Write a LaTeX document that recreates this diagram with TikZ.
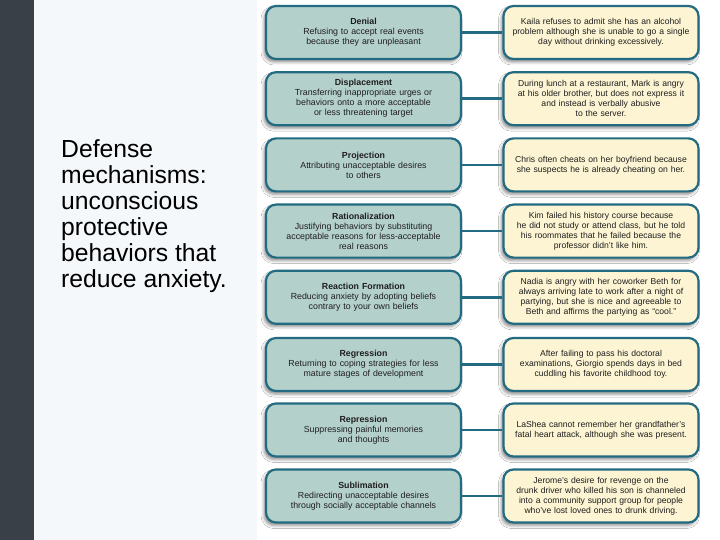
\documentclass[tikz,border=0pt]{standalone}
\usepackage{fontspec}
\setmainfont{Liberation Sans}
\usetikzlibrary{shadows.blur}
\definecolor{barcol}{HTML}{394048}
\definecolor{panelcol}{HTML}{F4F8FB}
\definecolor{edgecol}{HTML}{236B82}
\definecolor{leftfill}{HTML}{B4D0CB}
\definecolor{rightfill}{HTML}{FCF4D2}
\definecolor{txtcol}{HTML}{1E1E1E}
\tikzset{
  mechbox/.style={draw=edgecol, line width=2.2pt, rounded corners=10pt,
    minimum width=195pt, minimum height=53pt, text width=190pt, align=center,
    inner sep=1pt, text=txtcol, font=\fontsize{8.8}{10}\selectfont,
    blur shadow={shadow xshift=-2pt, shadow yshift=-3pt, shadow blur radius=3pt, shadow opacity=45}},
  defbox/.style={mechbox, fill=leftfill},
  exbox/.style={mechbox, fill=rightfill, font=\fontsize{8.6}{10}\selectfont},
  link/.style={draw=edgecol, line width=2.5pt},
  heading/.style={anchor=north west, inner sep=0pt, align=left, text=black,
    font=\fontsize{24.7}{26}\selectfont}
}
\begin{document}
\begin{tikzpicture}[x=1pt,y=-1pt]
\useasboundingbox (0,0) rectangle (720,540);
\fill[white] (0,0) rectangle (720,540);
\fill[barcol] (0,0) rectangle (34,540);
\fill[panelcol] (34,0) rectangle (257,540);
\node[heading] (title) at (61,139) {Defense\\mechanisms:\\unconscious\\protective\\behaviors that\\reduce anxiety.};

\node[defbox] (d1) at (363.5,32.5) {\textbf{Denial}\\Refusing to accept real events\\because they are unpleasant};
\node[exbox] (e1) at (601,32.5) {Kaila refuses to admit she has an alcohol\\problem although she is unable to go a single\\day without drinking excessively.};

\node[defbox] (d2) at (363.5,98.7) {\textbf{Displacement}\\Transferring inappropriate urges or\\behaviors onto a more acceptable\\or less threatening target};
\node[exbox] (e2) at (601,98.7) {During lunch at a restaurant, Mark is angry\\at his older brother, but does not express it\\and instead is verbally abusive\\to the server.};

\node[defbox] (d3) at (363.5,164.9) {\textbf{Projection}\\Attributing unacceptable desires\\to others};
\node[exbox] (e3) at (601,164.9) {Chris often cheats on her boyfriend because\\she suspects he is already cheating on her.};

\node[defbox] (d4) at (363.5,231.1) {\textbf{Rationalization}\\Justifying behaviors by substituting\\acceptable reasons for less-acceptable\\real reasons};
\node[exbox] (e4) at (601,231.1) {Kim failed his history course because\\he did not study or attend class, but he told\\his roommates that he failed because the\\professor didn't like him.};

\node[defbox] (d5) at (363.5,297.3) {\textbf{Reaction Formation}\\Reducing anxiety by adopting beliefs\\contrary to your own beliefs};
\node[exbox] (e5) at (601,297.3) {Nadia is angry with her coworker Beth for\\always arriving late to work after a night of\\partying, but she is nice and agreeable to\\Beth and affirms the partying as “cool.”};

\node[defbox] (d6) at (363.5,364.5) {\textbf{Regression}\\Returning to coping strategies for less\\mature stages of development};
\node[exbox] (e6) at (601,364.5) {After failing to pass his doctoral\\examinations, Giorgio spends days in bed\\cuddling his favorite childhood toy.};

\node[defbox] (d7) at (363.5,430) {\textbf{Repression}\\Suppressing painful memories\\and thoughts};
\node[exbox] (e7) at (601,430) {LaShea cannot remember her grandfather's\\fatal heart attack, although she was present.};

\node[defbox] (d8) at (363.5,496) {\textbf{Sublimation}\\Redirecting unacceptable desires\\through socially acceptable channels};
\node[exbox] (e8) at (601,496) {Jerome's desire for revenge on the\\drunk driver who killed his son is channeled\\into a community support group for people\\who've lost loved ones to drunk driving.};

\foreach \i in {1,...,8} {
  \draw[link] (d\i.east) -- (e\i.west);
}
\end{tikzpicture}
\end{document}
